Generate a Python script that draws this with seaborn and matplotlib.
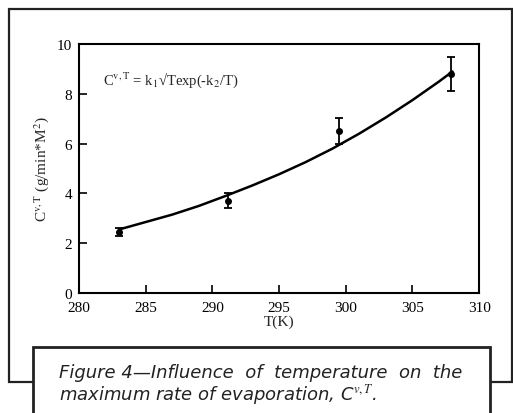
import matplotlib
matplotlib.use("Agg")
import matplotlib.pyplot as plt
import seaborn as sns
import pandas as pd
from matplotlib.patches import Rectangle

# Data
obs_T = [283.0, 291.2, 299.5, 307.9]
obs_C = [2.45, 3.7, 6.5, 8.8]
obs_err = [0.18, 0.3, 0.52, 0.68]

fit_T = [283, 285, 287, 289, 291, 293, 295, 297, 299, 301, 303, 305, 307, 308]
fit_C = [2.55, 2.85, 3.15, 3.5, 3.9, 4.32, 4.77, 5.26, 5.8, 6.4, 7.05, 7.75, 8.5, 8.9]

x_ticks = [280, 285, 290, 295, 300, 305, 310]
y_ticks = [0, 2, 4, 6, 8, 10]

sns.set_theme(style="white")
plt.rcParams["font.family"] = ["Liberation Serif", "DejaVu Serif"]
plt.rcParams["mathtext.fontset"] = "stix"

fig = plt.figure(figsize=(5.13, 4.14), dpi=100)
fig.patch.set_facecolor("white")
ax = fig.add_axes([0.154, 0.290, 0.780, 0.601])

fit_df = pd.DataFrame({"T": fit_T, "C": fit_C})
sns.lineplot(data=fit_df, x="T", y="C", ax=ax, color="black", linewidth=1.8)
ax.errorbar(obs_T, obs_C, yerr=obs_err, fmt="o", color="black", markersize=4,
            capsize=3, elinewidth=1.3, capthick=1.3)

ax.set_xlim(280, 310)
ax.set_ylim(0, 10)
ax.set_xticks(x_ticks)
ax.set_yticks(y_ticks)
ax.tick_params(direction="in", length=6, width=1.2, labelsize=11, colors="black",
               top=False, right=False, bottom=True, left=True)
ax.tick_params(axis="x", pad=6)
ax.tick_params(axis="y", pad=5)
for s in ax.spines.values():
    s.set_color("black")
    s.set_linewidth(1.5)
ax.set_xlabel("T(K)", fontsize=11, labelpad=0)
ax.set_ylabel(r"C$^{\mathrm{v,T}}$ (g/min*M$^{2}$)", fontsize=11, labelpad=4)
ax.text(281.8, 8.6, "C$^{\\mathrm{v,T}}$ = k$_1$\u221aTexp(-k$_2$/T)", fontsize=10.5,
        va="center", ha="left")

# Outer frame
fig.patches.append(Rectangle((0.0175, 0.075), 0.98, 0.901, transform=fig.transFigure,
                             fill=False, edgecolor="#222222", linewidth=1.6, zorder=0))
# Caption box
fig.patches.append(Rectangle((0.064, -0.05), 0.891, 0.209, transform=fig.transFigure,
                             facecolor="white", edgecolor="#222222", linewidth=2.0, zorder=1))
cap_font = ["DejaVu Sans"]
fig.text(0.115, 0.099, "Figure 4\u2014Influence  of  temperature  on  the", fontsize=13,
         family=cap_font, style="italic", ha="left", va="center", color="#222222")
fig.text(0.115, 0.046, "maximum rate of evaporation, C$^{v,T}$.", fontsize=13,
         family=cap_font, style="italic", ha="left", va="center", color="#222222")

fig.savefig("out.png", dpi=100)
